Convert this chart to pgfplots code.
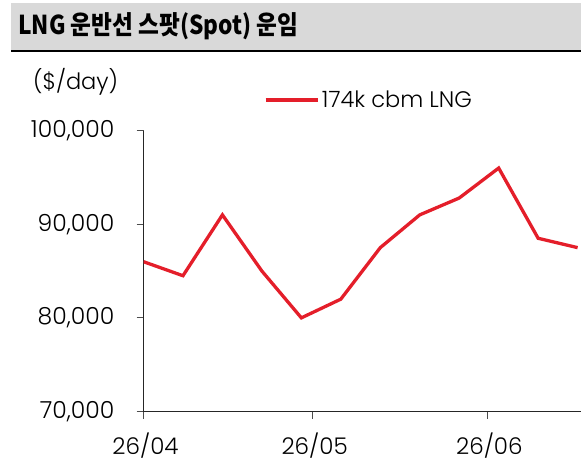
\documentclass[border=0pt]{standalone}
\usepackage{pgfplots}
\pgfplotsset{compat=1.18}
\usepackage{fontspec}
\usepackage{graphicx}
\setmainfont{Poppins}[UprightFont={* Light}]
\newfontfamily\krfont{Noto Sans CJK KR}
\definecolor{linered}{RGB}{228,30,42}
\definecolor{bargray}{RGB}{217,217,217}
\pgfplotstableread{
day value
0 86000
7 84500
14 91000
21 85000
28 80000
35 82000
42 87500
49 91000
56 92800
63 96000
70 88500
77 87500
}\spotdata
\begin{document}
\begin{tikzpicture}[x=1pt,y=1pt]
\path[use as bounding box] (0,0) rectangle (581,467);
\fill[bargray] (11,417) rectangle (581,464.3);
\fill[black] (11,414.7) rectangle (581,417);
\node[anchor=west, inner sep=0pt] at (18,440.5) {\scalebox{0.87}[1]{\krfont\bfseries\fontsize{26}{30}\selectfont LNG 운반선 스팟(Spot) 운임}};
\node[anchor=west, inner sep=0pt] at (33,385) {\fontsize{22.5}{26}\selectfont (\$/day)};
\begin{axis}[
  at={(143.5pt,55.5pt)}, anchor=south west,
  scale only axis, width=437.5pt, height=280.9pt,
  xmin=0, xmax=77.6, ymin=70000, ymax=100000,
  axis x line=bottom, axis y line=left,
  axis line style={-, line width=1.2pt, color=black!85},
  xtick={0,30,61}, xticklabels={26/04,26/05,26/06},
  ytick={70000,80000,90000,100000},
  yticklabels={{70,000},{80,000},{90,000},{100,000}},
  scaled y ticks=false,
  tick align=outside, major tick length=7pt,
  tick style={line width=1pt, color=black!70},
  yticklabel style={font=\fontsize{23.5}{26}\selectfont, anchor=east, inner sep=0pt, xshift=-22pt},
  xticklabel style={font=\fontsize{23}{26}\selectfont, anchor=north, inner sep=0pt, yshift=-14pt, xshift=2pt},
  legend style={draw=none, fill=none, at={(axis description cs:0.2754,1.109)}, anchor=west,
    font=\fontsize{22.5}{26}\selectfont, inner sep=0pt, outer sep=0pt},
  legend image code/.code={\draw[#1] (0pt,0pt) -- (52.7pt,0pt);},
]
\addplot[linered, line width=3.3pt] table[x=day, y=value] {\spotdata};
\addlegendentry{174k cbm LNG}
\end{axis}
\end{tikzpicture}
\end{document}
